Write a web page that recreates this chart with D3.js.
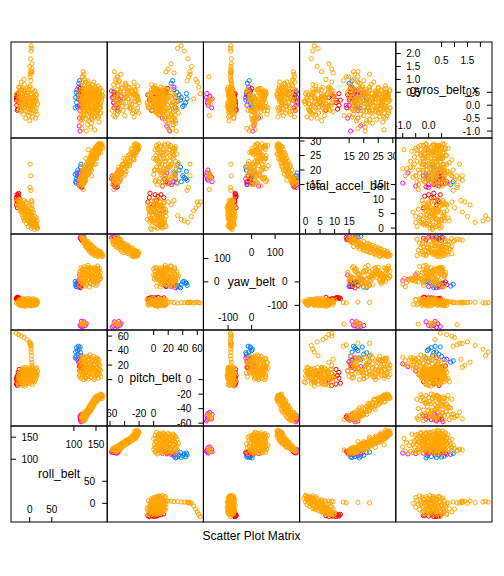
<!DOCTYPE html>
<html>
<head>
<meta charset="utf-8">
<script src="https://cdn.jsdelivr.net/npm/d3@7"></script>
<style>
  body { margin: 0; background: #fff; }
  text { font-family: "Liberation Sans", Arial, sans-serif; fill: #000; }
</style>
</head>
<body>
<svg id="chart" width="504" height="576"></svg>
<script>
// variables of the matrix, lowest row / left column first
const varNames = ["roll_belt", "pitch_belt", "yaw_belt", "total_accel_belt", "gyros_belt_x"];
const varLimits = [[-42.3, 175.4], [-63.9, 68.4], [-205.1, 204.1], [-2.03, 31.03], [-1.268, 2.448]];
const varTicks = [
  [0, 50, 100, 150],
  [-60, -40, -20, 0, 20, 40, 60],
  [-100, 0, 100],
  [0, 5, 10, 15, 20, 25, 30],
  [-1, -0.5, 0, 0.5, 1, 1.5, 2]
];
const varTickLabels = [
  ["0", "50", "100", "150"],
  ["-60", "-40", "-20", "0", "20", "40", "60"],
  ["-100", "0", "100"],
  ["0", "5", "10", "15", "20", "25", "30"],
  ["-1.0", "-0.5", "0.0", "0.5", "1.0", "1.5", "2.0"]
];

const classes = ["A", "B", "C", "D", "E"];
const classColors = ["#0080ff", "#ff00ff", "#006400", "#ff0000", "#ffa500"];

// rows: [roll_belt, pitch_belt, yaw_belt, total_accel_belt, gyros_belt_x]
const classA = [
  [104, 38, -12, 16, 0.3], [106, 44, -5, 17, 0.1], [105, 32, -20, 15.5, 0.5], [108, 40, 0, 18, -0.05],
  [110, 46, -15, 16.5, 0.25], [107, 28, -8, 19, 0.6], [109, 35, -22, 20, 0.4], [112, 42, 3, 17.5, 0.0],
  [111, 24, -18, 15, 0.85], [113, 26, -10, 16, 0.95], [115, 37, -25, 21, 0.2], [103, 30, 2, 18.5, -0.1],
  [114, 45, -6, 19.5, 0.45], [116, 33, -14, 22, 0.15],
  [120, -52, 192, 18, 0.3], [118, -55, 190, 17, 0.5], [122, -50, 194, 19, 0.15]
];
const classB = [
  [113, 25, -20, 15, 0.0], [112, 18, 10, 19, -0.8], [114, 22, 5, 15.5, -1.0], [111, 28, -12, 16, 0.7],
  [113, 12, 30, 14.5, -0.5], [115, 30, -25, 17, 0.3],
  [115, -56, 192, 15, 0.3], [117, -55, 194, 16, 0.1], [116, -58, 188, 17, 0.55], [118, -52, 190, 14, 0.0],
  [114, -50, 186, 18, -0.2],
  [116, -55, -188, 17, 0.1], [118, -57, -192, 18, 0.3], [114, -52, -185, 16.5, 0.0], [120, -50, -190, 19, 0.45],
  [126, -47, -186, 20, 0.2], [122, -54, -170, 17.5, -0.1], [128, -45, -178, 18.5, 0.35], [117, -48, -168, 16, 0.25]
];
const classC = [
  [120, -51, 182, 17, 0.3], [-2, 8, -85, 5, 0.1]
];
const classD = [
  [-30, -6, -70, 10.5, 0.2], [-29, 2, -68, 11.5, 0.0], [-28, -8, -72, 9, 0.4], [-27, 6, -66, 11, -0.15],
  [-30, 0, -74, 8, 0.3], [-26, 10, -70, 11.5, 0.45], [-28, -3, -66, 7, -0.2], [-24, 14, -68, 10.5, 0.1],
  [-29, 4, -72, 9.5, 0.35], [-25, -5, -70, 12, 0.2],
  [115, 17, -20, 16, 0.5], [116, 15, -5, 17, 0.55], [114, 19, 0, 15.5, 0.65], [117, 16, -15, 18, 0.4],
  [116, -54, 184, 14.5, 0.4], [118, -52, 178, 15, 0.2], [117, -50, 180, 14.2, -0.1], [119, -53, 175, 15.5, 0.5]
];
const classE = [
  // low roll group
  [-26, -4, -86, 9.5, 0.2], [-25, 3, -95, 8, 0.5], [-24, 6, -78, 10, 0.35], [-23, -7, -100, 7, -0.1],
  [-22, 0, -90, 6, 0.7], [-21, 8, -84, 9, 0.1], [-20, 11, -98, 7.5, 0.45], [-19, -5, -74, 5.5, 0.25],
  [-18, 14, -88, 8.5, -0.2], [-17, 4, -102, 4.5, 0.6], [-16, -8, -92, 8, 0.0], [-15, 16, -80, 6.5, 0.3],
  [-14, 9, -72, 3.5, -0.35], [-13, 1, -96, 9.5, 0.55], [-12, -3, -85, 2.5, 0.8], [-11, 13, -90, 5, 0.15],
  [-10, 6, -104, 7, -0.05], [-9, 17, -76, 4, -0.5], [-8, -6, -88, 6, 0.4], [-7, 10, -94, 1.5, 0.05],
  [-6, 3, -82, 8.5, 0.65], [-5, 15, -100, 3, -0.25], [-4, -2, -70, 4.5, 0.2], [-3, 12, -86, 0.5, 0.5],
  [-2, 7, -92, 6.5, -0.4], [-1, -5, -78, 2, 0.3], [0, 16, -96, 5.5, -0.6], [1, 2, -84, 3.5, 0.75],
  [2, 9, -74, 1, -0.15], [3, 14, -102, 7, 0.1], [4, -4, -90, 0, 0.45], [5, 5, -80, 4.5, -0.3],
  [6, 11, -88, 2.5, 0.6], [7, 17, -98, 0.5, -0.45], [8, 0, -72, 5.5, 0.0], [9, 8, -94, 3, 0.35],
  [10, 13, -86, 1.5, -0.2], [11, -3, -82, -0.5, 0.15], [12, 6, -100, 4, 0.55], [13, 15, -76, 2, -0.5],
  [14, 3, -90, 0.5, 0.25], [15, 10, -84, 3.5, -0.1], [16, 16, -96, 1, 0.4], [17, 7, -78, 2.5, -0.35],
  [18, 12, -88, 0, 0.05], [-20, 2, -82, 9.5, -0.25], [-8, 14, -80, 9, 0.0], [-1, 10, -100, 8, 0.7],
  [6, -7, -94, 6.5, -0.05], [-11, -9, -76, 3, 0.1],
  [-24, 1, -92, 8.5, 0.0], [-23, 9, -84, 9, 0.55], [-22, -4, -76, 7.5, 0.3], [-21, 4, -96, 8, -0.15],
  [-20, -2, -88, 6.5, 0.15], [-19, 7, -80, 8, 0.6], [-18, 1, -100, 6, 0.35], [-17, 10, -92, 7.5, -0.05],
  [-16, -3, -84, 5.5, 0.45], [-15, 5, -76, 7, 0.05], [-14, 13, -96, 6, 0.2], [-13, -6, -88, 4.5, -0.1],
  [-12, 8, -80, 7.5, 0.4], [-11, 2, -100, 5.5, 0.6], [-10, 11, -84, 3.5, 0.25], [-9, -1, -92, 6.5, -0.2],
  [-8, 5, -76, 4, 0.05], [-7, 14, -88, 5.5, 0.35], [-6, -4, -96, 3, 0.5], [-5, 8, -84, 6, -0.1],
  [-4, 2, -80, 2.5, 0.0], [-3, 11, -92, 4.5, 0.25], [-2, -3, -88, 3.5, 0.6], [-1, 5, -76, 5, 0.1],
  [0, 13, -84, 2, -0.3], [1, -1, -96, 4.5, -0.05], [2, 7, -88, 2.5, 0.4], [3, 3, -80, 5, 0.2],
  [4, 10, -92, 1.5, -0.1], [5, -2, -84, 3, 0.3], [6, 6, -100, 1, 0.05], [7, 13, -88, 3.5, 0.15],
  [8, 3, -78, 1.5, -0.2], [9, -1, -92, 2.5, 0.5], [10, 9, -82, 0.5, 0.3], [11, 5, -96, 3, -0.05],
  [12, 11, -88, 1, 0.2], [13, 0, -80, 2, 0.4], [14, 8, -94, 1.5, -0.25], [16, 5, -86, 0, 0.15],
  // curved tail of the low roll group
  [-30, 64, -90, 9, 0.45], [-25, 62, -88, 8, 0.7], [-19, 60, -86, 9, 0.9], [-13, 58, -88, 7, 1.0],
  [-6, 55, -90, 6, 0.25], [0, 52, -88, 4, 1.5], [2, 47, -87, 2, 1.8], [3, 42, -89, 2.5, 2.1],
  [3, 38, -88, 3, 2.3], [4, 33, -90, 4.3, 2.2], [4, 28, -88, 9.5, 1.25], [5, 24, -86, 8, 1.6],
  [5, 20, -88, 9, 1.4], [5, 17, -90, 5.5, 1.3],
  [1, 50, -88, 22, 1.2], [2, 50, -86, 18, 1.3], [1, 48, -90, 14, 1.1], [3, 46, -88, 13, 0.95],
  // high roll, positive pitch
  [112, 5, 10, 15, 0.3], [113, 22, -15, 16.5, -0.2], [114, 12, 40, 14.5, 0.5], [115, 30, 5, 17.5, -0.6],
  [116, 2, 60, 16, 0.1], [117, 18, 25, 15.5, 0.6], [118, 26, -20, 18, -0.9], [119, 8, 50, 17, -0.1],
  [120, 33, 15, 15.5, 0.2], [121, 15, -5, 19.5, 0.4], [122, 0, 30, 18.5, 0.65], [123, 24, 65, 16.5, -0.35],
  [124, 10, 0, 20, -0.2], [125, 29, 35, 18, 0.05], [126, 4, -18, 21, 0.5], [127, 20, 55, 17.5, 0.3],
  [128, 31, -10, 20.5, -1.0], [129, 13, 20, 19, 0.0], [130, 7, 45, 22, 0.35], [131, 27, 8, 19.5, -0.75],
  [132, 16, 70, 21.5, -0.1], [133, 1, 12, 20, 0.2], [134, 22, 38, 23, -0.45], [135, 9, -22, 21, 0.55],
  [136, 34, 25, 22.5, -0.3], [137, 14, 58, 24, 0.45], [138, 19, -2, 20.5, -0.85], [139, 3, 32, 23.5, 0.0],
  [140, 28, 48, 25, 0.15], [141, 11, 5, 22, -0.25], [142, 25, 20, 24.5, -0.55], [143, 6, 22, 26, 0.6],
  [144, 17, -12, 23, 0.25], [145, 32, 42, 25.5, -0.15], [146, 0, 55, 24, 0.35], [147, 21, 15, 27, -0.95],
  [148, 12, 62, 25, -0.05], [149, 26, 0, 26.5, 0.1], [150, 5, 35, 27.5, 0.45], [151, 18, 50, 24.5, 0.55],
  [152, 30, 18, 28, -0.4], [153, 9, -8, 26, 0.3], [154, 23, 68, 28.5, -0.2], [155, 2, 28, 27, 0.0],
  [156, 15, 45, 29, 0.2], [157, 27, 10, 26.5, -0.65], [158, 8, 58, 28, 0.5], [159, 20, 25, 29, -0.1],
  [160, 13, 40, 27.5, 0.65], [161, 4, 15, 28.5, -0.3], [127, 10, 28, 24, 0.1], [140, 16, 18, 18, -0.5],
  [133, 29, 60, 27, 0.4], [118, 20, 12, 21, -0.7], [150, 24, -15, 22, 0.6],
  [114, 7, 20, 16, 0.35], [115, 16, 45, 17, 0.1], [116, 24, 0, 15, -0.4], [117, 10, 35, 18.5, 0.45],
  [118, 3, 15, 16.5, 0.0], [119, 28, 10, 18, -0.5], [120, 19, 55, 17, 0.25], [121, 6, 40, 20, 0.55],
  [122, 12, 5, 16, -0.15], [123, 30, -5, 19, -0.2], [124, 16, 30, 18, 0.6], [125, 22, 50, 21, 0.15],
  [126, 9, 12, 19.5, 0.3], [127, 2, 45, 20, -0.1], [128, 25, 18, 22, -0.55], [129, 18, 62, 20.5, 0.45],
  [130, 11, -10, 19, 0.1], [131, 32, 30, 21.5, 0.2], [132, 5, 25, 23, -0.05], [133, 20, 8, 21, -0.6],
  [134, 14, 48, 20.5, 0.5], [135, 27, 40, 24, -0.25], [136, 8, 10, 22.5, 0.1], [137, 23, -8, 21.5, 0.35],
  [138, 12, 35, 25, 0.25], [139, 30, 15, 23, -0.7], [140, 4, 60, 24, 0.55], [141, 19, 28, 26, 0.0],
  [142, 15, 52, 23, -0.2], [143, 26, 5, 25.5, 0.4], [144, 9, 38, 24.5, -0.1], [145, 22, 22, 27, -0.45],
  [146, 13, 0, 26, 0.2], [147, 3, 30, 25, 0.5], [148, 29, 55, 27.5, -0.05], [149, 17, 12, 25.5, -0.3],
  [150, 10, 48, 28, 0.3], [151, 25, 32, 26, 0.0], [152, 6, 20, 27, -0.15], [153, 16, 58, 28.5, 0.4],
  [154, 28, 2, 27.5, -0.5], [155, 11, 35, 26, 0.15], [156, 21, 50, 28, 0.35], [157, 7, 22, 29, -0.1],
  [158, 14, 10, 27, 0.25],
  // high roll, negative pitch
  [118, -56, 186, 15, 0.6], [121, -54, 178, 16.5, 1.3], [117, -52, 190, 15.5, 0.2], [122, -57, 175, 17, -0.2],
  [120, -50, 182, 14.8, 1.1], [125, -53, 168, 16, 0.45], [119, -48, 185, 18, 0.9], [126, -55, 160, 17.5, -0.1],
  [124, -49, 174, 15.5, 0.75], [128, -51, 155, 18.5, 0.3], [123, -45, 180, 17, 1.2], [130, -50, 165, 19, -0.35],
  [127, -46, 150, 16.5, 0.55], [132, -47, 172, 20, 0.95], [129, -42, 158, 18, 0.1], [134, -44, 145, 19.5, 0.7],
  [131, -48, 162, 21, -0.25], [136, -41, 152, 20.5, 0.4], [133, -39, 140, 18.5, 0.85], [138, -43, 160, 22, 0.0],
  [135, -37, 148, 21, 0.6], [140, -40, 135, 20, -0.4], [137, -35, 155, 23, 0.25], [142, -38, 142, 22.5, 0.8],
  [139, -33, 130, 21.5, -0.1], [144, -36, 150, 24, 0.5], [141, -31, 138, 23, 0.15], [146, -34, 125, 22, 0.7],
  [143, -29, 145, 25, -0.3], [148, -32, 132, 24.5, 0.35], [145, -27, 120, 23.5, 0.9], [150, -30, 140, 26, 0.05],
  [147, -25, 128, 25, 0.45], [152, -28, 115, 24, -0.2], [154, -26, 135, 27, 0.6], [151, -23, 122, 26.5, 0.2],
  [156, -27, 112, 25.5, -0.45], [158, -24, 130, 28, 0.4], [155, -22, 118, 27.5, 0.75], [160, -25, 125, 26, 0.0],
  [162, -23, 110, 28.5, 0.3], [159, -21, 120, 27, -0.3], [164, -24, 115, 29, 0.55], [161, -20, 128, 28, 0.1],
  [166, -22, 112, 27.5, 0.35], [120, -53, 182, 16, -0.45],
  [119, -53, 180, 16, 0.35], [122, -55, 170, 15.5, 0.8], [120, -51, 188, 17, 0.05], [124, -52, 176, 16.5, 1.0],
  [123, -56, 165, 18, 0.25], [126, -50, 172, 17, 0.6], [125, -47, 184, 16, -0.15], [128, -48, 160, 19.5, 0.45],
  [127, -52, 150, 18, 0.9], [130, -45, 168, 18.5, 0.2], [129, -49, 145, 20, -0.05], [132, -44, 158, 19, 0.65],
  [131, -41, 165, 21.5, 0.3], [134, -46, 138, 20, 0.5], [133, -42, 150, 22, -0.2], [136, -38, 160, 19.5, 0.75],
  [135, -44, 130, 21, 0.1], [138, -39, 145, 23.5, 0.35], [137, -36, 138, 22, 0.55], [140, -37, 150, 21.5, -0.05],
  [139, -41, 125, 24, 0.25], [142, -33, 145, 23, 0.45], [141, -35, 120, 25, 0.65], [144, -32, 135, 24.5, -0.15],
  [143, -38, 128, 22.5, 0.3], [146, -30, 118, 26, 0.55], [145, -33, 142, 25.5, 0.1], [148, -28, 125, 24, 0.4],
  [147, -31, 112, 27, -0.1], [150, -27, 132, 25, 0.7], [149, -25, 118, 26.5, 0.25], [152, -30, 122, 27.5, 0.5],
  [153, -24, 128, 26, -0.25], [155, -26, 118, 28.5, 0.15], [154, -28, 108, 25.5, 0.45], [157, -22, 124, 27, 0.3],
  [158, -26, 112, 29, 0.6], [160, -22, 118, 27.5, -0.1], [163, -21, 122, 28.5, 0.2], [164, -26, 108, 28, 0.4],
  // small group at yaw near -180
  [120, -52, -178, 17.5, 0.2], [123, -49, -182, 18.5, 0.1], [118, -53, -174, 18, 0.3], [125, -50, -180, 19, 0.15],
  [121, -47, -176, 17, 0.05], [121, -55, -180, 13.3, -0.4], [119, -50, -182, 18, 1.1]
];
const classRows = [classA, classB, classC, classD, classE];

const svg = d3.select("#chart");
const padLeft = 11, padTop = 42, W = 96.2, H = 96, n = varNames.length;

const xScales = varLimits.map(l => d3.scaleLinear().domain(l).range([0, W]));
const yScales = varLimits.map(l => d3.scaleLinear().domain(l).range([H, 0]));

const defs = svg.append("defs");
defs.append("clipPath").attr("id", "panelClip")
  .append("rect").attr("x", 0).attr("y", 0).attr("width", W).attr("height", H);

// drop a label if it overlaps the previous one drawn on the same side
function placeLabels(g, items, horizontal) {
  let last = null;
  items.forEach(it => {
    const t = g.append("text")
      .attr("x", it.x).attr("y", it.y)
      .attr("text-anchor", it.anchor)
      .attr("dominant-baseline", "central")
      .style("font-size", "10px")
      .text(it.label);
    const w = t.node().getComputedTextLength();
    const c = horizontal ? it.x : it.y;
    const size = horizontal ? w : 10;
    if (last && Math.abs(c - last.c) < (size + last.size) / 2 + 1) {
      t.remove();
    } else {
      last = { c: c, size: size };
    }
  });
}

for (let col = 0; col < n; col++) {
  for (let row = 0; row < n; row++) {
    const xi = col, yi = n - 1 - row;
    const g = svg.append("g")
      .attr("transform", `translate(${padLeft + col * W},${padTop + row * H})`);
    const inner = g.append("g").attr("clip-path", "url(#panelClip)");

    if (xi === yi) {
      const xs = xScales[xi], ys = yScales[yi];
      const ticks = varTicks[xi], labs = varTickLabels[xi];
      const k = ticks.length;
      const lower = d3.range(0, Math.ceil(k / 2));
      const upper = d3.range(Math.floor(k / 2), k);
      const tl = 5;
      // tick marks
      upper.forEach(i => {
        inner.append("line").attr("x1", 0).attr("x2", tl).attr("y1", ys(ticks[i])).attr("y2", ys(ticks[i]));
        inner.append("line").attr("x1", xs(ticks[i])).attr("x2", xs(ticks[i])).attr("y1", 0).attr("y2", tl);
      });
      lower.forEach(i => {
        inner.append("line").attr("x1", W - tl).attr("x2", W).attr("y1", ys(ticks[i])).attr("y2", ys(ticks[i]));
        inner.append("line").attr("x1", xs(ticks[i])).attr("x2", xs(ticks[i])).attr("y1", H - tl).attr("y2", H);
      });
      inner.selectAll("line").attr("stroke", "#000").attr("stroke-width", 1);

      placeLabels(inner, upper.map(i => ({ x: 10.5, y: ys(ticks[i]), anchor: "start", label: labs[i] })), false);
      placeLabels(inner, upper.map(i => ({ x: xs(ticks[i]), y: 18, anchor: "middle", label: labs[i] })), true);
      placeLabels(inner, lower.map(i => ({ x: W - 12, y: ys(ticks[i]), anchor: "end", label: labs[i] })), false);
      placeLabels(inner, lower.map(i => ({ x: xs(ticks[i]), y: H - 12.5, anchor: "middle", label: labs[i] })), true);

      inner.append("text")
        .attr("x", W / 2).attr("y", H / 2)
        .attr("text-anchor", "middle")
        .attr("dominant-baseline", "central")
        .style("font-size", "12px")
        .text(varNames[xi]);
    } else {
      classRows.forEach((rows, ci) => {
        inner.selectAll(null)
          .data(rows)
          .enter().append("circle")
          .attr("cx", d => xScales[xi](d[xi]))
          .attr("cy", d => yScales[yi](d[yi]))
          .attr("r", 2.1)
          .attr("fill", "none")
          .attr("stroke", classColors[ci])
          .attr("stroke-width", 1);
      });
    }

    g.append("rect")
      .attr("width", W).attr("height", H)
      .attr("fill", "none").attr("stroke", "#000").attr("stroke-width", 1);
  }
}

svg.append("text")
  .attr("x", padLeft + n * W / 2).attr("y", 540)
  .attr("text-anchor", "middle")
  .style("font-size", "12px")
  .text("Scatter Plot Matrix");
</script>
</body>
</html>
